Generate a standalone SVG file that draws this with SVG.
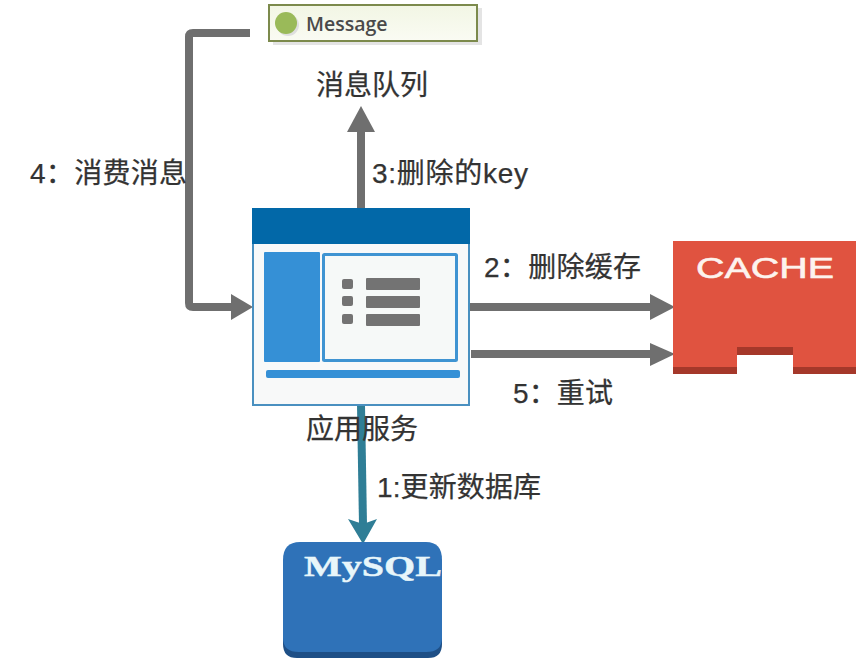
<svg xmlns="http://www.w3.org/2000/svg" width="856" height="658" viewBox="0 0 856 658">
<defs>
<style>
.l{font-family:"Liberation Sans","Noto Sans CJK SC",sans-serif;font-size:28px;fill:#333;stroke:#333;stroke-width:.25}
.c{fill:none;stroke:#6f6f6f;stroke-width:8}
.h{fill:#6f6f6f}
.g{fill:#737373}
.b{fill:#3590d6}
</style>
<linearGradient id="mg" x1="0" y1="0" x2="0" y2="1"><stop offset="0" stop-color="#f2f6e4"/><stop offset="1" stop-color="#fafbf3"/></linearGradient>
</defs>
<rect width="856" height="658" fill="#fff"/>
<g id="connectors">
<path class="c" d="M250 33H193Q189 33 189 37V303Q189 307 193 307H234"/>
<path class="h" d="M253 307L231 294V320Z"/>
<path class="c" d="M361 209V126"/>
<path class="h" d="M361 106L347 132H375Z"/>
<path class="c" d="M470 307H654"/>
<path class="h" d="M675 307L650 294V320Z"/>
<path class="c" d="M471 354H656"/>
<path class="h" d="M675 354L650 343V366Z"/>
<path fill="none" stroke="#2f7e96" stroke-width="8" d="M361 405L363 525"/>
<path fill="#2f7e96" d="M363 544L348 519L363 524L377 519Z"/>
</g>
<g id="queue">
<rect x="273" y="8" width="209" height="37" fill="#e4e4e4"/>
<rect x="269" y="5" width="208" height="36" fill="url(#mg)" stroke="#7c8a4c" stroke-width="2"/>
<circle cx="288" cy="25" r="11" fill="#dfdfdf"/>
<circle cx="286" cy="23" r="11" fill="#9aba59"/>
<text x="306" y="31" style="font-family:'Open Sans','Liberation Sans',sans-serif;font-size:19.500px;font-weight:600;fill:#4a4a4a">Message</text>
<text class="l" x="316" y="95">消息队列</text>
</g>
<g id="app">
<rect x="253" y="209" width="216" height="196" fill="#f8f9f9" stroke="#4a90c0" stroke-width="2"/>
<rect x="252" y="208" width="218" height="36" fill="#0268a8"/>
<rect class="b" x="264" y="252" width="56" height="110" rx="1"/>
<rect x="323.500" y="254.500" width="133" height="106" rx="1" fill="#f6f9f8" stroke="#3f94d2" stroke-width="3"/>
<rect class="g" x="342" y="279" width="11" height="10" rx="2"/>
<rect class="g" x="342" y="296" width="11" height="10" rx="2"/>
<rect class="g" x="342" y="314" width="11" height="10" rx="2"/>
<rect class="g" x="366" y="278" width="54" height="12" rx="1"/>
<rect class="g" x="366" y="296" width="54" height="12" rx="1"/>
<rect class="g" x="366" y="314" width="54" height="12" rx="1"/>
<rect class="b" x="266" y="370" width="194" height="8" rx="2"/>
<text class="l" x="306" y="439">应用服务</text>
</g>
<g id="cache">
<path fill="#a5382a" d="M673 300H856V374H793V355H737V374H673Z"/>
<path fill="#e05340" d="M673 241H856V367H793V347H737V367H673Z"/>
<text x="765" y="278" text-anchor="middle" textLength="138" lengthAdjust="spacingAndGlyphs" style="font-family:'Liberation Sans',sans-serif;font-size:29px;fill:#fdf3ee;stroke:#fdf3ee;stroke-width:.6">CACHE</text>
</g>
<g id="mysql">
<path fill="#1e4f86" d="M283 630H442V644Q442 658 428 658H297Q283 658 283 644Z"/>
<path fill="#2f72b8" d="M300 542H426Q442 542 442 560V638Q442 652 426 652H299Q283 652 283 638V560Q283 542 300 542Z"/>
<text x="304" y="576" textLength="138" lengthAdjust="spacingAndGlyphs" style="font-family:'Liberation Serif',serif;font-size:29px;font-weight:700;fill:#e8f6fa;stroke:#e8f6fa;stroke-width:.4">MySQL</text>
</g>
<g id="labels">
<text class="l" x="30" y="183" textLength="157">4：消费消息</text>
<text class="l" x="372" y="183" textLength="156">3:删除的key</text>
<text class="l" x="484" y="277" textLength="157">2：删除缓存</text>
<text class="l" x="513" y="403" textLength="100">5：重试</text>
<text class="l" x="377" y="497" textLength="164">1:更新数据库</text>
</g>
</svg>
